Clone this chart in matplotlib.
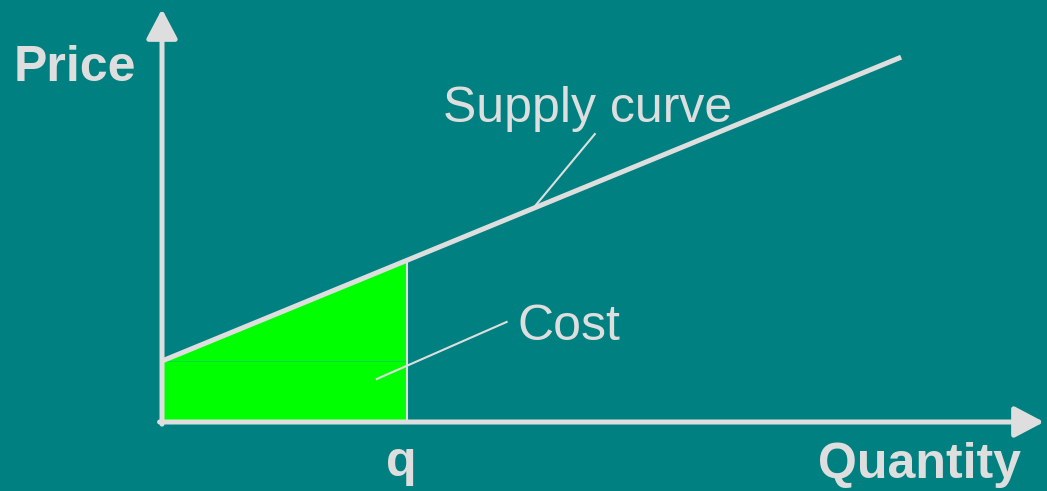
import numpy as np
import matplotlib
matplotlib.use("Agg")
import matplotlib.pyplot as plt

####################################

# supply curve (quantity, price) in arbitrary units
supply_q = [0.0, 3.0, 9.05]
supply_p = [2.0, 5.3, 11.96]
q_idx = 1          # the point "q" on the supply curve

x_max = 10.8
y_max = 13.54

bg = "#008080"
fg = "#DEDEDE"
green = "#00FF00"

plt.rcParams['font.family'] = ['Liberation Sans', 'DejaVu Sans']

####################################

fig = plt.figure(figsize=(10.47, 4.91), dpi=100, facecolor=bg)
ax = fig.add_axes([162/1047, 69/491, 882/1047, 413/491])
ax.set_xlim(0, x_max)
ax.set_ylim(0, y_max)
ax.axis('off')

q = supply_q[q_idx]
p0 = supply_p[0]
pq = supply_p[q_idx]

# cost area: rectangle + triangle
ax.fill([0, q, q, 0], [0, 0, p0, p0], color=green, lw=0, zorder=1)
ax.fill([0, q, q], [p0, p0, pq], color=green, lw=0, zorder=1)
ax.plot([0, q], [p0, p0], color='#10D050', lw=0.6, zorder=1.5)

# q line
ax.plot([q, q], [0, pq], color=fg, lw=1.5, zorder=2)

# supply curve
ax.plot([supply_q[0], supply_q[-1]], [supply_p[0], supply_p[-1]],
        color=fg, lw=3.6, solid_capstyle='butt', zorder=3)

# axes with arrow heads
arrow = dict(arrowstyle='-|>,head_length=18,head_width=9.5', lw=3.6, color=fg,
             shrinkA=0, shrinkB=0, mutation_scale=1)
ax.annotate('', xy=(0, y_max), xytext=(0, -0.07), arrowprops=arrow,
            annotation_clip=False, zorder=4)
ax.annotate('', xy=(x_max, 0), xytext=(-0.03, 0), arrowprops=arrow,
            annotation_clip=False, zorder=4)

# labels
ax.text(-1.82, 11.18, 'Price', fontsize=36, fontweight='bold', color=fg,
        ha='left', va='baseline', clip_on=False)
ax.text(8.03, -1.84, 'Quantity', fontsize=36, fontweight='bold', color=fg,
        ha='left', va='baseline', clip_on=False)
ax.text(2.93, -1.77, 'q', fontsize=36, fontweight='bold', color=fg,
        ha='center', va='baseline', clip_on=False)

ax.text(3.44, 9.84, 'Supply curve', fontsize=36, color=fg,
        ha='left', va='baseline')
ax.plot([4.54, 5.30], [6.99, 9.44], color=fg, lw=1.5, zorder=3)

ax.text(4.35, 2.69, 'Cost', fontsize=36, color=fg,
        ha='left', va='baseline')
ax.plot([2.63, 4.22], [1.41, 3.28], color=fg, lw=1.5, zorder=3)

fig.savefig('out.png', dpi=100, facecolor=bg)
